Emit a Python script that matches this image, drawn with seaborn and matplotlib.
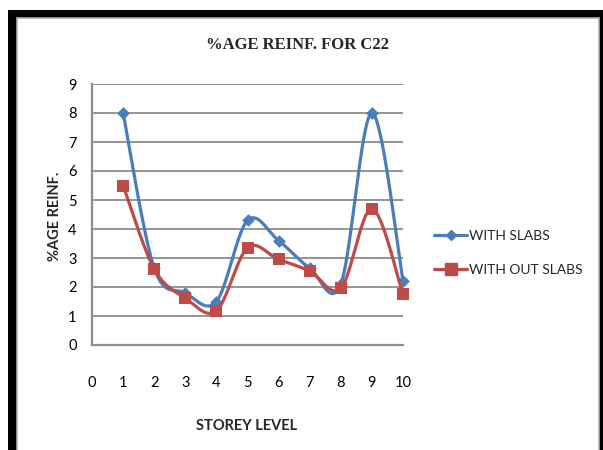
import numpy as np
import pandas as pd
import matplotlib
matplotlib.use("Agg")
import matplotlib.pyplot as plt
from matplotlib.lines import Line2D
from matplotlib.patches import Rectangle
import seaborn as sns

# Storey levels and percentage reinforcement for column C22
storey = [1, 2, 3, 4, 5, 6, 7, 8, 9, 10]
with_slabs = [8.0, 2.65, 1.8, 1.5, 4.3, 3.6, 2.65, 2.1, 8.0, 2.2]
without_slabs = [5.5, 2.62, 1.62, 1.18, 3.35, 2.95, 2.55, 1.95, 4.7, 1.75]
series_names = ["WITH SLABS", "WITH OUT SLABS"]
x_ticks = list(range(0, 11))
y_ticks = list(range(0, 10))

BLUE = "#4a7ebb"
RED = "#be4b48"
GRID = "#8c8c8c"

sns.set_theme(style="white")
plt.rcParams["font.family"] = ["Liberation Sans Narrow", "Lato", "DejaVu Sans"]

W, H = 603, 450
fig = plt.figure(figsize=(W / 100, H / 100), dpi=100)
fig.patch.set_facecolor("white")


def fx(px):
    return px / W


def fy(py):
    return 1 - py / H


# outer black frame with thin grey inner rule, kept behind the axes
fig.patches.append(Rectangle((fx(8), fy(470)), fx(620), fy(10) - fy(470),
                             transform=fig.transFigure, facecolor="black",
                             edgecolor="none", zorder=-3))
fig.patches.append(Rectangle((fx(17), fy(470)), fx(599) - fx(17), fy(18) - fy(470),
                             transform=fig.transFigure, facecolor="white",
                             edgecolor="#b0b0b0", linewidth=1.2, zorder=-2))

ax = fig.add_axes([fx(92), fy(345), fx(403) - fx(92), fy(84) - fy(345)])
ax.set_facecolor("none")
ax.set_zorder(1)


def smooth(xs, ys, n=40):
    """Bezier smoothing through every point (Catmull-Rom style control points)."""
    xs = np.asarray(xs, float)
    ys = np.asarray(ys, float)
    px = np.concatenate([[xs[0]], xs, [xs[-1]]])
    py = np.concatenate([[ys[0]], ys, [ys[-1]]])
    outx, outy = [], []
    t = np.linspace(0, 1, n)
    for i in range(1, len(px) - 2):
        p0 = np.array([px[i], py[i]])
        p3 = np.array([px[i + 1], py[i + 1]])
        c1 = p0 + (np.array([px[i + 1], py[i + 1]]) - np.array([px[i - 1], py[i - 1]])) / 6
        c2 = p3 - (np.array([px[i + 2], py[i + 2]]) - np.array([px[i], py[i]])) / 6
        b = ((1 - t) ** 3)[:, None] * p0 + (3 * (1 - t) ** 2 * t)[:, None] * c1 \
            + (3 * (1 - t) * t ** 2)[:, None] * c2 + (t ** 3)[:, None] * p3
        outx.extend(b[:, 0])
        outy.extend(b[:, 1])
    return np.array(outx), np.array(outy)


curves = []
for name, vals in zip(series_names, [with_slabs, without_slabs]):
    cx, cy = smooth(storey, vals)
    curves.append(pd.DataFrame({"x": cx, "y": cy, "series": name}))
curve_df = pd.concat(curves, ignore_index=True)

points_df = pd.DataFrame({
    "x": storey * 2,
    "y": with_slabs + without_slabs,
    "series": [series_names[0]] * len(storey) + [series_names[1]] * len(storey),
})

# blue series first, red drawn on top
sns.lineplot(data=curve_df[curve_df.series == series_names[0]], x="x", y="y",
             color=BLUE, linewidth=2.3, sort=False, ax=ax, legend=False, zorder=3)
sns.scatterplot(data=points_df[points_df.series == series_names[0]], x="x", y="y",
                color=BLUE, marker="D", s=42, linewidth=0, ax=ax, legend=False, zorder=4)
sns.lineplot(data=curve_df[curve_df.series == series_names[1]], x="x", y="y",
             color=RED, linewidth=2.3, sort=False, ax=ax, legend=False, zorder=5)
sns.scatterplot(data=points_df[points_df.series == series_names[1]], x="x", y="y",
                color=RED, marker="s", s=80, linewidth=0, ax=ax, legend=False, zorder=6)

# let the last storey's markers overhang the plot edge
for artist in list(ax.lines) + list(ax.collections):
    artist.set_clip_on(False)

ax.set_xlim(0, 10)
ax.set_ylim(0, 9)
ax.set_xticks(x_ticks)
ax.set_yticks(y_ticks)
ax.set_xticklabels([str(v) for v in x_ticks])
ax.set_yticklabels([str(v) for v in y_ticks])
ax.set_xlabel("")
ax.set_ylabel("")
ax.tick_params(axis="x", length=0, pad=22, labelsize=10.5, colors="black")
ax.tick_params(axis="y", length=0, pad=11, labelsize=10.5, colors="black")

for yv in y_ticks[1:]:
    ax.axhline(yv, color=GRID, linewidth=1.3, zorder=1)

for side in ["top", "right"]:
    ax.spines[side].set_visible(False)
for side in ["left", "bottom"]:
    ax.spines[side].set_color(GRID)
    ax.spines[side].set_linewidth(1.6)
ax.grid(False)

fig.text(fx(297), fy(45), "%AGE REINF. FOR C22", ha="center", va="center",
         fontsize=12, fontweight="bold", family="Liberation Serif")
fig.text(fx(247), fy(426), "STOREY LEVEL", ha="center", va="center",
         fontsize=10.5, fontweight="bold")
fig.text(fx(55), fy(216), "%AGE REINF.", ha="center", va="center",
         rotation=90, fontsize=10.5, fontweight="bold")

handles = [
    Line2D([], [], color=BLUE, linewidth=2.3, marker="D", markersize=5.5),
    Line2D([], [], color=RED, linewidth=2.3, marker="s", markersize=8.5),
]
fig.legend(handles, series_names, loc="upper left",
           bbox_to_anchor=(fx(434), fy(230)), frameon=False, fontsize=10,
           handlelength=2.4, handletextpad=0.15, labelspacing=1.55,
           borderpad=0, borderaxespad=0)

fig.savefig("out.png", dpi=100)
